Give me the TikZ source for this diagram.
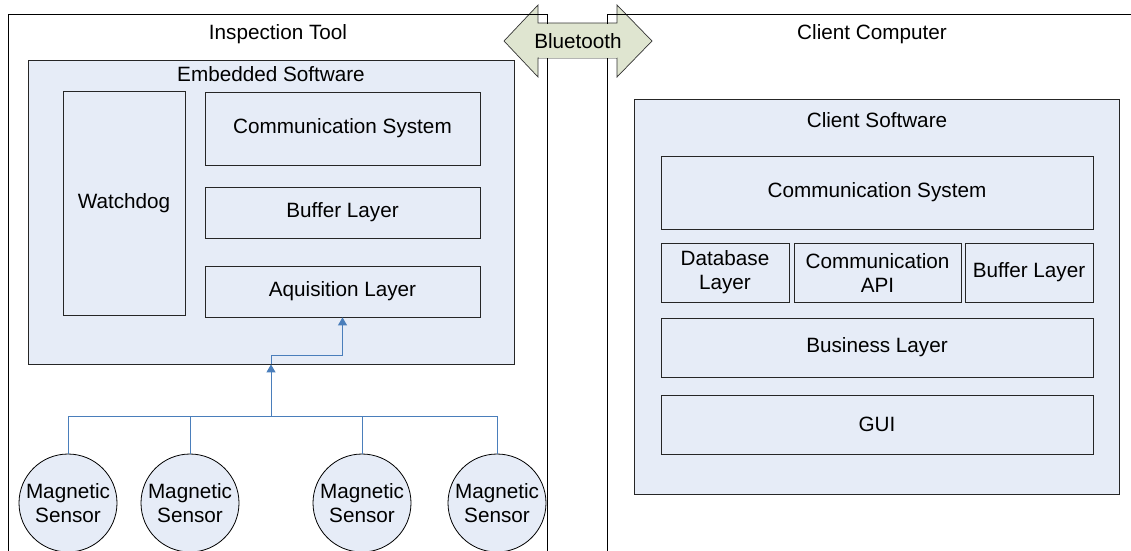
\documentclass[tikz,border=0pt]{standalone}
\usepackage{fontspec}
\setmainfont{Liberation Sans}
\usetikzlibrary{arrows.meta}
\definecolor{boxfill}{HTML}{E6ECF7}
\definecolor{arrfill}{HTML}{DFE5D0}
\definecolor{conn}{HTML}{4A7EBB}
\tikzset{
  box/.style={draw=black!85, fill=boxfill, line width=0.8pt, inner sep=2pt, align=center, font=\fontsize{20.7}{24}\selectfont},
  frame/.style={draw=black, line width=0.8pt, inner sep=0pt},
  lbl/.style={inner sep=0pt, align=center, font=\fontsize{20.7}{24}\selectfont},
  sensor/.style={circle, draw=black, fill=boxfill, line width=0.8pt, minimum size=98pt, inner sep=0pt, align=center, font=\fontsize{20.7}{24}\selectfont},
  wire/.style={draw=conn, line width=1pt},
  tip/.style={-{Triangle[length=8pt,width=9pt]}}
}
\begin{document}
\begin{tikzpicture}[x=1pt,y=-1pt]
\useasboundingbox (0,0) rectangle (1131,550);
\clip (0,0) rectangle (1131,550);
% Bluetooth arrow
\draw[fill=arrfill, draw=black!80, line width=0.7pt] (504,41) -- (538,5) -- (538,23) -- (617,23) -- (617,5) -- (652,41) -- (617,77) -- (617,58) -- (538,58) -- (538,77) -- cycle;
% outer containers
\node[frame, minimum width=539pt, minimum height=600pt] (tool) at (278,314) {};
\node[frame, minimum width=560pt, minimum height=600pt] (client) at (887,314) {};
\node[lbl] (toollbl) at (278,34) {Inspection Tool};
\node[lbl] (clientlbl) at (872,34) {Client Computer};
\node[fill=arrfill, inner sep=0pt, minimum width=78pt, minimum height=34pt] (btbg) at (577.5,40.5) {};
\node[lbl] (bt) at (578,41) {Bluetooth};
% embedded software
\node[box, minimum width=486pt, minimum height=304pt] (emb) at (271,212) {};
\node[lbl] (emblbl) at (271,74) {Embedded Software};
\node[box, minimum width=122pt, minimum height=224pt] (wd) at (124,203) {Watchdog};
\node[box, minimum width=275pt, minimum height=73pt] (ecs) at (342.5,128.5) {Communication System};
\node[box, minimum width=275pt, minimum height=51pt] (ebl) at (342.5,212.5) {Buffer Layer};
\node[box, minimum width=275pt, minimum height=51pt] (aq) at (342.5,291.5) {Aquisition Layer};
% client software
\node[box, minimum width=485pt, minimum height=395pt] (csw) at (876.5,297) {};
\node[lbl] (cswlbl) at (877,120) {Client Software};
\node[box, minimum width=432pt, minimum height=73pt] (ccs) at (877,192.5) {Communication System};
\node[box, minimum width=128pt, minimum height=59pt] (db) at (725,272.5) {Database\\Layer};
\node[box, minimum width=167pt, minimum height=59pt] (api) at (877.5,272.5) {Communication\\API};
\node[box, minimum width=128pt, minimum height=59pt] (cbl) at (1029,272.5) {Buffer Layer};
\node[box, minimum width=432pt, minimum height=59pt] (bus) at (877,347.5) {Business Layer};
\node[box, minimum width=432pt, minimum height=59pt] (gui) at (877,424.5) {GUI};
% sensors
\node[sensor] (s1) at (68,503) {Magnetic\\Sensor};
\node[sensor] (s2) at (190,503) {Magnetic\\Sensor};
\node[sensor] (s3) at (362,503) {Magnetic\\Sensor};
\node[sensor] (s4) at (497,503) {Magnetic\\Sensor};
% connectors
\coordinate (junc) at (271,416);
\draw[wire] (s1.north) |- (junc);
\draw[wire] (s2.north) |- (junc);
\draw[wire] (s3.north) |- (junc);
\draw[wire] (s4.north) |- (junc);
\draw[wire, tip] (junc) -- (emb.south -| junc);
\draw[wire, tip] (emb.south -| junc) -- ++(0,-9) -| (aq.south);
\end{tikzpicture}
\end{document}
